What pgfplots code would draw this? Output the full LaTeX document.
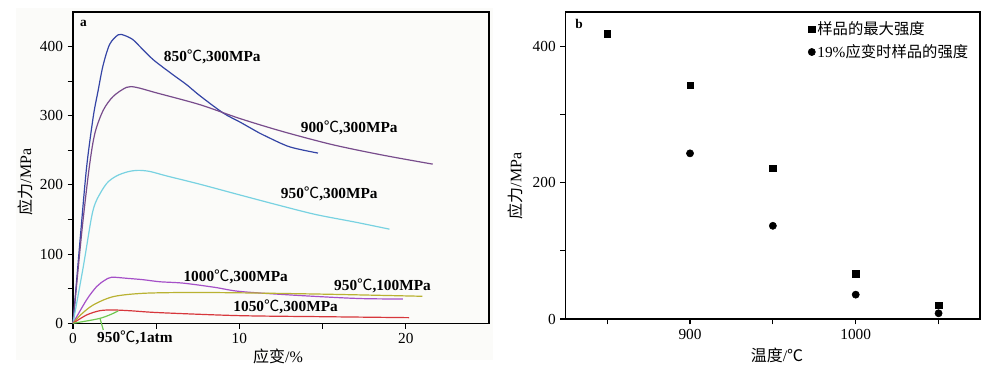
\documentclass[border=0pt]{standalone}
\usepackage{pgfplots}
\pgfplotsset{compat=1.18}
\usepackage{fontspec}
\setmainfont{Liberation Serif}
\newfontfamily\cjk{Noto Sans CJK SC}
\newcommand{\dc}{{\cjk\mdseries ℃}}
\definecolor{c850}{RGB}{52,68,165}
\definecolor{c900}{RGB}{120,76,140}
\definecolor{c950}{RGB}{120,210,225}
\definecolor{c1000}{RGB}{165,80,200}
\definecolor{c100}{RGB}{185,178,50}
\definecolor{c1050}{RGB}{215,55,60}
\definecolor{c1atm}{RGB}{110,200,80}
\definecolor{bgtint}{RGB}{251,251,249}
\pgfplotsset{myax/.style={
  scale only axis, clip=false,
  axis line style={line width=0.9pt},
  every tick/.style={line width=0.8pt, black},
  tick align=outside, tick pos=left,
  major tick length=4pt, minor tick length=4pt,
  tick label style={font=\fontsize{11.5}{12}\selectfont},
  /pgf/number format/assume math mode=true,
  /pgf/number format/1000 sep={},
}}
\begin{document}
\begin{tikzpicture}
\path[use as bounding box] (0,0) rectangle (750pt,275.25pt);
\fill[bgtint] (12pt,5.25pt) rectangle (369.75pt,269.25pt);
% ---------- panel a ----------
\begin{axis}[myax,
  at={(54.75pt,32.8pt)}, anchor=south west,
  width=312pt, height=233.5pt,
  xmin=0, xmax=25, ymin=0, ymax=450,
  xtick={0,10,20}, minor xtick={5,15},
  ytick={0,100,200,300,400}, minor ytick={50,150,250,350},
  xlabel={{\cjk 应变}/\%},
  ylabel={{\cjk 应力}/MPa},
  label style={font=\fontsize{12}{13}\selectfont},
  xlabel style={at={(axis description cs:0.493,-0.105)}, anchor=center},
  ylabel style={at={(axis description cs:-0.115,0.454)}, anchor=center},
]
\addplot[c850, line width=0.9pt, smooth, tension=0.5] coordinates {
(0,0) (0.46,130) (0.82,226) (1.22,299) (1.5,335) (1.8,372) (2.2,403) (2.72,417) (3.1,416) (3.6,410) (4.02,400) (4.82,381) (6.02,359) (6.82,345) (7.62,329) (9.02,304) (10.02,291) (11.2,275) (11.62,270) (13.02,255) (14.72,246)};
\addplot[c900, line width=0.9pt, smooth, tension=0.5] coordinates {
(0,0) (0.52,130) (0.98,226) (1.32,275) (1.82,308) (2.42,328) (3.22,341) (3.8,341) (5.02,333) (7.62,316) (10.02,296) (12.62,277) (15.62,258) (18.62,243) (21.62,230)};
\addplot[c950, line width=0.9pt, smooth, tension=0.5] coordinates {
(0,0) (0.62,82) (1.12,154) (1.42,178) (2.02,202) (2.62,213) (3.3,219) (3.9,221) (4.6,219.5) (5.62,213) (7.62,201) (10.02,185.5) (12.62,169) (14.62,157) (17,146) (19.02,136)};
\addplot[c1000, line width=0.9pt, smooth, tension=0.5] coordinates {
(0,0) (0.82,34) (1.42,53) (1.9,62) (2.32,66.5) (3.22,65) (4.2,63) (5.22,60) (6.62,58) (8.5,52) (10.02,46) (13,41) (16,37) (17.62,35.5) (19.82,35)};
\addplot[c100, line width=0.9pt, smooth, tension=0.5] coordinates {
(0,0) (0.5,13) (1.22,26.5) (2.42,38.5) (4.22,43.3) (7,44.5) (10,44) (15.2,42) (21.0,39)};
\addplot[c1050, line width=0.9pt, smooth, tension=0.5] coordinates {
(0,0) (0.82,12) (1.62,18.2) (2.42,19.2) (3.5,18) (5.22,15.3) (10,11) (15,9.5) (20.2,8.1)};
\addplot[c1atm, line width=0.9pt, smooth, tension=0.5] coordinates {
(0,0) (0.82,3.3) (1.62,7.1) (2.2,12) (2.72,17.8)};
\addplot[c1atm, line width=0.9pt] coordinates {(1.62,7.2) (1.82,-9.6)};
\begin{scope}[every node/.style={font=\fontsize{11.5}{12}\selectfont\bfseries}]
\node at (axis cs:8.37,384.5) {850\dc,300MPa};
\node at (axis cs:16.6,282.8) {900\dc,300MPa};
\node at (axis cs:15.4,186.5) {950\dc,300MPa};
\node at (axis cs:9.78,67.4) {1000\dc,300MPa};
\node at (axis cs:18.6,53.9) {950\dc,100MPa};
\node at (axis cs:12.78,23.1) {1050\dc,300MPa};
\node at (axis cs:3.72,-21.7) {950\dc,1atm};
\end{scope}
\node[font=\fontsize{10}{11}\selectfont\bfseries] at (axis description cs:0.025,0.962) {a};
\end{axis}
% ---------- panel b ----------
\begin{axis}[myax,
  at={(424.3pt,36pt)}, anchor=south west,
  width=310.7pt, height=230.25pt,
  xmin=825, xmax=1075, ymin=0, ymax=450,
  xtick={900,1000}, minor xtick={850,950,1050},
  ytick={0,200,400}, minor ytick={100,300},
  xlabel={{\cjk 温度}/\dc},
  ylabel={{\cjk 应力}/MPa},
  label style={font=\fontsize{12}{13}\selectfont},
  xlabel style={at={(axis description cs:0.51,-0.12)}, anchor=center},
  ylabel style={at={(axis description cs:-0.122,0.433)}, anchor=center},
  legend style={draw=none, fill=none, at={(axis description cs:0.575,0.985)}, anchor=north west,
    font=\fontsize{11.5}{12}\selectfont, row sep=3pt,
    nodes={inner sep=1.5pt}},
  legend cell align=left,
  legend image code/.code={\draw[#1] plot coordinates {(0.12cm,0cm)};},
]
\addplot[only marks, mark=square*, mark size=2.4pt, black] coordinates {
(850,418) (900,342.6) (950,220.7) (1000,66.5) (1050,20)};
\addlegendentry{{\cjk 样品的最大强度}}
\addplot[only marks, mark=*, mark size=2.7pt, black] coordinates {
(900,242.8) (950,136.6) (1000,35.7) (1050,8.4)};
\addlegendentry{19\%{\cjk 应变时样品的强度}}
\node[font=\fontsize{10}{11}\selectfont\bfseries] at (axis description cs:0.032,0.962) {b};
\end{axis}
\end{tikzpicture}
\end{document}
